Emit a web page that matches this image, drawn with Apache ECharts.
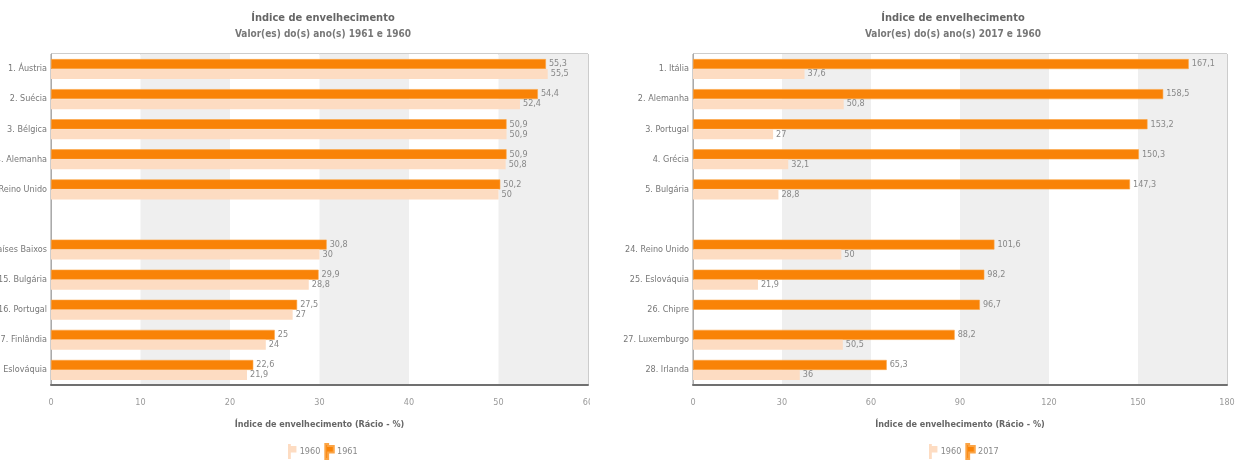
<!DOCTYPE html>
<html><head><meta charset="utf-8">
<script src="https://cdn.jsdelivr.net/npm/echarts@6/dist/echarts.min.js"></script>
<style>
html,body{margin:0;padding:0;background:#fff;width:1245px;height:469px;overflow:hidden;position:relative;}
#wrapL{position:absolute;left:0;top:0;width:590px;height:469px;overflow:hidden;}
#chartL{position:absolute;left:0;top:0;width:640px;height:469px;}
#chartR{position:absolute;left:600px;top:0;width:645px;height:469px;}
</style></head>
<body>
<div id="wrapL"><div id="chartL"></div></div>
<div id="chartR"></div>
<script>
// ---- Left chart data ----
const leftTitle = 'Índice de envelhecimento';
const leftSubtitle = 'Valor(es) do(s) ano(s) 1961 e 1960';
const leftCategories = ['1. Áustria','2. Suécia','3. Bélgica','4. Alemanha','5. Reino Unido','','14. Países Baixos','15. Bulgária','16. Portugal','17. Finlândia','18. Eslováquia'];
const left1961 = [55.3, 54.4, 50.9, 50.9, 50.2, null, 30.8, 29.9, 27.5, 25, 22.6];
const left1960 = [55.5, 52.4, 50.9, 50.8, 50, null, 30, 28.8, 27, 24, 21.9];
const leftTicks = {min: 0, max: 60, interval: 10};

// ---- Right chart data ----
const rightTitle = 'Índice de envelhecimento';
const rightSubtitle = 'Valor(es) do(s) ano(s) 2017 e 1960';
const rightCategories = ['1. Itália','2. Alemanha','3. Portugal','4. Grécia','5. Bulgária','','24. Reino Unido','25. Eslováquia','26. Chipre','27. Luxemburgo','28. Irlanda'];
const right2017 = [167.1, 158.5, 153.2, 150.3, 147.3, null, 101.6, 98.2, 96.7, 88.2, 65.3];
const right1960 = [37.6, 50.8, 27, 32.1, 28.8, null, 50, 21.9, null, 50.5, 36];
const rightTicks = {min: 0, max: 180, interval: 30};

const axisName = 'Índice de envelhecimento (Rácio - %)';

const FONT = '"Liberation Sans Narrow","DejaVu Sans Condensed","Liberation Sans",sans-serif';
const DARK = '#f98307';
const LIGHT = '#fddcc2';
const flagIcon = 'path://M0,0 L3,0 L3,2 L9,2 L9,9 L3,9 L3,16 L0,16 Z';

function fmt(p){ return String(p.value).replace('.', ','); }

function makeOption(o){
  return {
    animation: false,
    textStyle: {fontFamily: FONT},
    title: [{
      text: o.title, subtext: o.subtitle,
      left: o.titleX, top: 8, textAlign: 'center', itemGap: 5,
      textStyle: {fontFamily: FONT, fontSize: 11, fontWeight: 'bold', color: '#666'},
      subtextStyle: {fontFamily: FONT, fontSize: 10, fontWeight: 'bold', color: '#777'}
    }],
    legend: {
      data: [o.lightName, o.darkName],
      left: o.legendX, top: 438,
      itemWidth: 9, itemHeight: 15, itemGap: 4,
      icon: flagIcon,
      textStyle: {fontFamily: FONT, fontSize: 9, color: '#888', padding: [0,0,0,-2]}
    },
    grid: {
      left: o.gridLeft, width: o.gridWidth, top: 54, height: 331,
      containLabel: false, outerBoundsMode: 'none',
      show: true, borderColor: '#9a9a9a', borderWidth: 1, backgroundColor: 'transparent'
    },
    xAxis: {
      type: 'value', min: o.ticks.min, max: o.ticks.max, interval: o.ticks.interval,
      name: axisName, nameLocation: 'middle', nameGap: 35,
      nameTextStyle: {fontFamily: FONT, fontSize: 9, fontWeight: 'bold', color: '#666'},
      axisLine: {show: true, lineStyle: {color: '#707070', width: 2}},
      axisTick: {show: false},
      axisLabel: {fontFamily: FONT, fontSize: 9, color: '#999', margin: 13},
      splitLine: {show: false},
      splitArea: {show: true, areaStyle: {color: ['#ffffff', '#efefef']}}
    },
    yAxis: {
      type: 'category', data: o.categories, inverse: true,
      axisLine: {show: true, lineStyle: {color: '#aaaaaa', width: 1}},
      axisTick: {show: false},
      axisLabel: {fontFamily: FONT, fontSize: 9, color: '#777', margin: 4}
    },
    series: [
      {name: o.darkName, type: 'bar', data: o.dark, barWidth: 10, barGap: '0%',
       itemStyle: {color: DARK, borderColor: '#fba445', borderWidth: 0.6},
       label: {show: true, position: 'right', distance: 3, formatter: fmt,
               fontFamily: FONT, fontSize: 9, color: '#888'}},
      {name: o.lightName, type: 'bar', data: o.light, barWidth: 10, barGap: '0%',
       itemStyle: {color: LIGHT},
       label: {show: true, position: 'right', distance: 3, formatter: fmt,
               fontFamily: FONT, fontSize: 9, color: '#888'}}
    ]
  };
}

const cL = echarts.init(document.getElementById('chartL'), null, {renderer: 'canvas'});
cL.setOption(makeOption({
  title: leftTitle, subtitle: leftSubtitle, titleX: 318, legendX: 283,
  gridLeft: 51, gridWidth: 537, ticks: leftTicks, categories: leftCategories,
  darkName: '1961', lightName: '1960', dark: left1961, light: left1960
}));

const cR = echarts.init(document.getElementById('chartR'), null, {renderer: 'canvas'});
cR.setOption(makeOption({
  title: rightTitle, subtitle: rightSubtitle, titleX: 348, legendX: 324,
  gridLeft: 93, gridWidth: 534, ticks: rightTicks, categories: rightCategories,
  darkName: '2017', lightName: '1960', dark: right2017, light: right1960
}));
</script>
</body></html>
